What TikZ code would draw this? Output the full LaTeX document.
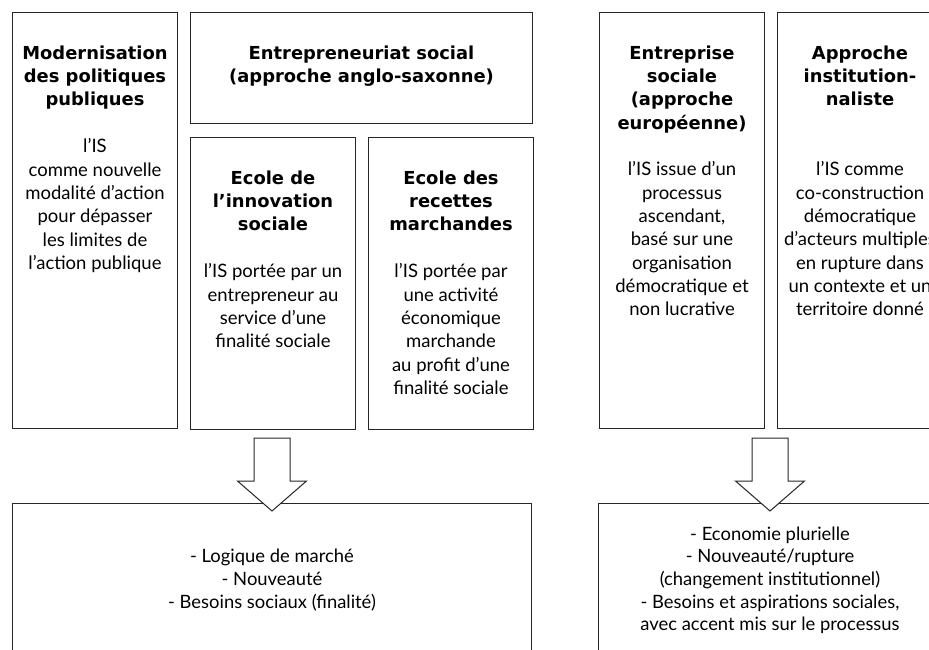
\documentclass[tikz,border=0pt]{standalone}
\usepackage{fontspec}
\setmainfont{Lato}
\newfontfamily\grasfont{DejaVu Sans}
\usepackage{tikz}
\usetikzlibrary{positioning,calc}

\newcommand{\policetitre}{\grasfont\fontsize{17.9}{23.3}\selectfont\bfseries}
\newcommand{\policecorps}{\fontsize{18.5}{23.3}\selectfont}
\newcommand{\policebas}{\fontsize{18.4}{22.7}\selectfont}
\colorlet{trait}{black!85}

\tikzset{
  cadre/.style = {draw=trait, line width=1pt, inner sep=0pt,
    anchor=north west},% boite vide
  titre/.style = {align=center, inner sep=0pt, anchor=north,
    font=\policetitre},% titre en gras
  corps/.style = {align=center, inner sep=0pt, anchor=north,
    font=\policecorps},% texte courant
  bas/.style = {cadre, align=center, font=\policebas},% boite du bas
  fleche/.style = {draw=trait, fill=white, line width=1pt,
    line join=miter}% grosse fleche creuse
}

% grosse fleche vers le bas, #1 = milieu du haut
\newcommand{\blocfleche}[1]{%
  \draw[fleche] ($(#1)+(-18,0)$) -- ++(0,43) -- ++(-16.5,0)
    -- ($(#1)+(0,73)$) -- ($(#1)+(34.5,43)$) -- ++(-16.5,0)
    -- ++(0,-43) -- cycle;}

\begin{document}
\begin{tikzpicture}[x=1pt, y=-1pt]
\path[use as bounding box] (0,0) rectangle (929,650);
\clip (0,0) rectangle (929,650);

% partie gauche
\node [cadre, minimum width=165pt, minimum height=416pt] (modern) at (12,12) {};
\node [cadre, minimum width=342pt, minimum height=111pt,
  right=12pt of modern.north east, anchor=north west] (anglo) {};
\node [cadre, minimum width=165pt, minimum height=292pt,
  below=13pt of anglo.south west, anchor=north west] (innov) {};
\node [cadre, minimum width=165pt, minimum height=292pt,
  right=12pt of innov.north east, anchor=north west] (recettes) {};

\node [titre, below=30.7pt of modern.north] (modern-t)
  {\strut Modernisation\\des politiques\\publiques};
\node [corps, below=124.4pt of modern.north] (modern-c)
  {\strut l’IS\\comme nouvelle\\modalité d’action\\pour dépasser\\les limites de\\l’action publique};
\node [titre, below=30.7pt of anglo.north] (anglo-t)
  {\strut Entrepreneuriat social\\(approche anglo-saxonne)};
\node [titre, below=30.7pt of innov.north] (innov-t)
  {\strut Ecole de\\l’innovation\\sociale};
\node [corps, below=124.4pt of innov.north] (innov-c)
  {\strut l’IS portée par un\\entrepreneur au\\service d’une\\finalité sociale};
\node [titre, below=30.7pt of recettes.north] (recettes-t)
  {\strut Ecole des\\recettes\\marchandes};
\node [corps, below=124.4pt of recettes.north] (recettes-c)
  {\strut l’IS portée par\\une activité\\économique\\marchande\\au profit d’une\\finalité sociale};

% partie droite
\node [cadre, minimum width=165pt, minimum height=416pt] (europe) at (599,12) {};
\node [cadre, minimum width=165pt, minimum height=416pt,
  right=12pt of europe.north east, anchor=north west] (institution) {};

\node [titre, below=30.7pt of europe.north] (europe-t)
  {\strut Entreprise\\sociale\\(approche\\européenne)};
\node [corps, below=147.4pt of europe.north] (europe-c)
  {\strut l’IS issue d’un\\processus\\ascendant,\\basé sur une\\organisation\\démocratique et\\non lucrative};
\node [titre, below=30.7pt of institution.north] (institution-t)
  {\strut Approche\\institution-\\naliste};
\node [corps, below=147.4pt of institution.north] (institution-c)
  {\strut l’IS comme\\co-construction\\démocratique\\d’acteurs multiples\\en rupture dans\\un contexte et un\\territoire donné};

% boites du bas
\node [bas, minimum width=519pt, minimum height=155pt] (logique) at (12,503)
  {\strut - Logique de marché\\- Nouveauté\\- Besoins sociaux (finalité)\strut};
\node [bas, minimum width=343pt, minimum height=155pt] (plurielle) at (598,503)
  {\strut - Economie plurielle\\- Nouveauté/rupture\\(changement institutionnel)\\- Besoins et aspirations sociales,\\avec accent mis sur le processus\strut};

% fleches
\coordinate (fg) at ($(logique.north)+(0,-65)$);
\coordinate (fd) at ($(plurielle.north)+(0,-65)$);
\blocfleche{fg}
\blocfleche{fd}
\end{tikzpicture}
\end{document}
